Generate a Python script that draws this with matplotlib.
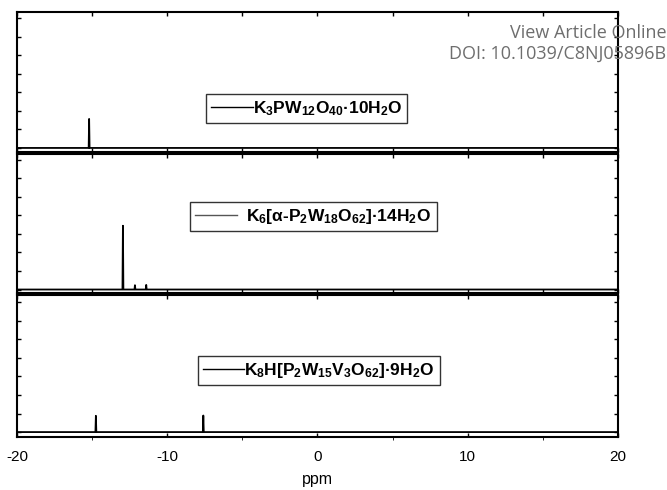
import numpy as np
import matplotlib
matplotlib.use("Agg")
import matplotlib.pyplot as plt
from matplotlib.ticker import MultipleLocator

plt.rcParams['font.family'] = 'Liberation Sans'
plt.rcParams['mathtext.fontset'] = 'custom'
plt.rcParams['mathtext.rm'] = 'Liberation Sans:bold'
plt.rcParams['mathtext.bf'] = 'Liberation Sans:bold'
plt.rcParams['mathtext.it'] = 'Liberation Sans:bold'

# ---------------------------------
# 31P NMR peaks (ppm, relative intensity)
# ---------------------------------
labels = [
    r'$\mathbf{K_3PW_{12}O_{40}}$·$\mathbf{10H_2O}$',
    r'$\mathbf{K_6[α}$-$\mathbf{P_2W_{18}O_{62}]}$·$\mathbf{14H_2O}$',
    r'$\mathbf{K_8H[P_2W_{15}V_3O_{62}]}$·$\mathbf{9H_2O}$',
]
shifts = [
    [-15.2],
    [-12.95, -12.15, -11.4],
    [-14.75, -7.6],
]
heights = [
    [1.0],
    [2.2, 0.15, 0.16],
    [0.56, 0.57],
]
handleColors = ["black", "#555555", "black"]

xTicks = [-20, -10, 0, 10, 20]
xTickLabels = ["-20", "-10", "0", "10", "20"]


def spectrumTrace(peakShifts, peakHeights, halfWidth=0.03):
    xs = [-20.0]
    ys = [0.0]
    for s, h in sorted(zip(peakShifts, peakHeights)):
        xs += [s - halfWidth, s, s + halfWidth]
        ys += [0.0, h, 0.0]
    xs.append(20.0)
    ys.append(0.0)
    return xs, ys


fig = plt.figure(figsize=(6.67, 4.90), dpi=100)

# panel boxes in pixels (top, bottom), converted to figure fractions below
W, H = 667.0, 490.0
left = 17 / W
width = (618 - 17) / W
panelPix = [(12, 152), (154, 293), (295, 437)]
yLows = [-0.14, -0.12, -0.17]
legendAnchors = [(0.482, 0.31), (0.493, 0.55), (0.502, 0.47)]
handlePads = [0.0, 0.55, 0.0]

for i in range(3):
    top, bottom = panelPix[i]
    ax = fig.add_axes([left, (H - bottom) / H, width, (bottom - top) / H])
    xs, ys = spectrumTrace(shifts[i], heights[i])
    ax.plot(xs, ys, color="black", lw=1.3, label=labels[i])
    ax.set_xlim(-20, 20)
    span = (bottom - top) / 29.0
    ax.set_ylim(yLows[i], yLows[i] + span)

    ax.xaxis.set_major_locator(MultipleLocator(5))
    ax.yaxis.set_major_locator(MultipleLocator(0.64))
    ax.tick_params(direction="in", length=3, width=1, top=True, right=True,
                   labelleft=False, labelbottom=False)
    for sp in ax.spines.values():
        sp.set_linewidth(1.5)

    leg = ax.legend(loc="center", bbox_to_anchor=legendAnchors[i],
                    frameon=True, fancybox=False, edgecolor="black",
                    handlelength=2.4, handletextpad=handlePads[i],
                    borderpad=0.3, borderaxespad=0,
                    prop={'family': 'Liberation Sans', 'weight': 'bold', 'size': 12.5})
    leg.get_frame().set_linewidth(1.0)
    leg.get_lines()[0].set_color(handleColors[i])
    leg.get_lines()[0].set_linewidth(1.0)
    if i == 2:
        ax.set_xticks(xTicks)
        ax.set_xticklabels(xTickLabels)
        ax.xaxis.set_minor_locator(MultipleLocator(5))
        ax.tick_params(labelbottom=True, labelsize=11, pad=9)
        ax.set_xlabel("ppm", fontsize=11.5, labelpad=6)

fig.text(0.999, 1 - 38 / H, "View Article Online", ha="right", va="baseline",
         family="Open Sans", fontsize=13, color="#6e6e6e")
fig.text(0.999, 1 - 59 / H, "DOI: 10.1039/C8NJ05896B", ha="right", va="baseline",
         family="Open Sans", fontsize=13, color="#6e6e6e")

fig.savefig("out.png", dpi=100)
